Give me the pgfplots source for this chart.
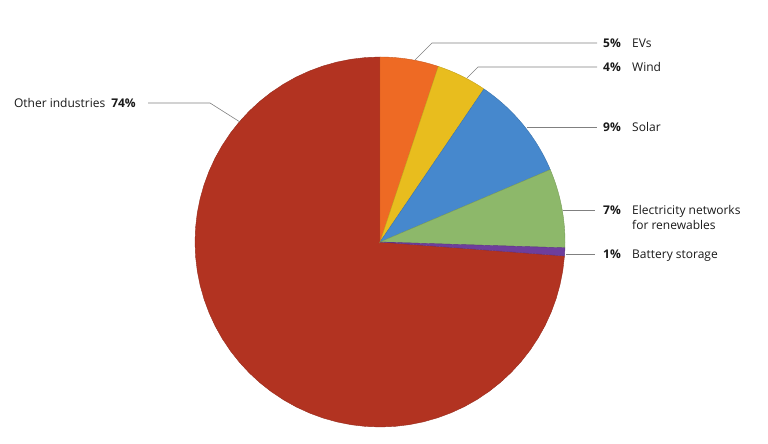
\documentclass[border=0pt]{standalone}
\usepackage{pgfplots}
\pgfplotsset{compat=1.18}
\usepackage{fontspec}
\setmainfont{Open Sans}

\definecolor{cEV}{HTML}{EE6A24}
\definecolor{cWind}{HTML}{E8BD1E}
\definecolor{cSolar}{HTML}{4688CD}
\definecolor{cGrid}{HTML}{8DB86A}
\definecolor{cBatt}{HTML}{6E3E9C}
\definecolor{cOther}{HTML}{B23321}
\definecolor{leader}{HTML}{808080}

% pie centre and radius in picture units (1 unit = 1pt)
\def\cx{380}
\def\cy{202}
\def\R{185}

% one slice, from start to end share in percent, clockwise from 12 o'clock
\newcommand{\pieslice}[3]{%
  \addplot[fill=#3, draw=#3!85!black, line width=0.4pt, domain=#1:#2, samples=60]
    ({\cx+\R*sin(3.6*x)}, {\cy+\R*cos(3.6*x)}) -- (axis cs:\cx,\cy) -- cycle;
}

\begin{document}
\begin{tikzpicture}[
    lab/.style={font=\fontsize{12}{15}\selectfont, inner sep=0pt, text=black!90,
                text height=8.6pt, text depth=0pt}]
\begin{axis}[
    width=768pt, height=444pt, scale only axis,
    xmin=0, xmax=768, ymin=0, ymax=444,
    hide axis, clip=false,
  ]
  % keep the whole canvas as the picture's bounding box
  \path (axis cs:0,0) (axis cs:768,444);

  % shares (percent): EVs 5.1, Wind 4.4, Solar 9.1, Electricity networks 6.9, Battery 0.7, Other 73.8
  \pieslice{26.2}{100}{cOther}
  \pieslice{0}{5.1}{cEV}
  \pieslice{5.1}{9.5}{cWind}
  \pieslice{9.5}{18.6}{cSolar}
  \pieslice{18.6}{25.5}{cGrid}
  \pieslice{25.5}{26.2}{cBatt}

  % leader lines
  \addplot[leader, line width=0.6pt] coordinates {(415,384) (432,401) (597,401)};
  \addplot[leader, line width=0.6pt] coordinates {(467,366) (478,377) (597,377)};
  \addplot[leader, line width=0.6pt] coordinates {(527,317) (597,317)};
  \addplot[leader, line width=0.6pt] coordinates {(563,234) (595,234)};
  \addplot[leader, line width=0.6pt] coordinates {(566,190) (595,190)};
  \addplot[leader, line width=0.6pt] coordinates {(148,341) (210,341) (240,322)};

  % labels
  \node[lab, anchor=west] at (axis cs:603,401) {\textbf{5\%}};
  \node[lab, anchor=west] at (axis cs:632,401) {EVs};
  \node[lab, anchor=west] at (axis cs:603,377) {\textbf{4\%}};
  \node[lab, anchor=west] at (axis cs:632,377) {Wind};
  \node[lab, anchor=west] at (axis cs:603,317) {\textbf{9\%}};
  \node[lab, anchor=west] at (axis cs:632,317) {Solar};
  \node[lab, anchor=west] at (axis cs:603,234) {\textbf{7\%}};
  \node[font=\fontsize{12}{15}\selectfont, inner sep=0pt, text=black!90, align=left,
        anchor=base west] at (axis cs:632,214.7) {Electricity networks\\for renewables};
  \node[lab, anchor=west] at (axis cs:603,190) {\textbf{1\%}};
  \node[lab, anchor=west] at (axis cs:632,190) {Battery storage};
  \node[lab, anchor=east] at (axis cs:136,341) {Other industries\enspace\textbf{74\%}};
\end{axis}
\end{tikzpicture}
\end{document}
